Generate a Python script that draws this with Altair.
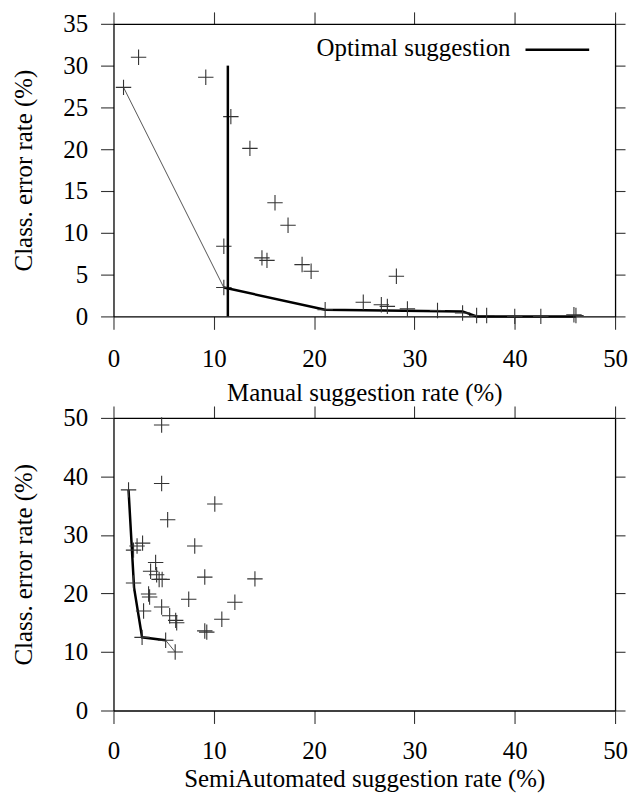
import altair as alt
import pandas as pd

# ---------------- data ----------------
# top panel: manual suggestion
manual_x = [1.0, 2.5, 9.2, 11.7, 13.6, 16.1, 17.4, 11.0, 14.8, 15.3, 18.8, 19.7, 11.0, 21.1,
            28.2, 24.9, 26.7, 27.3, 29.3, 32.3, 34.8, 36.2, 37.2, 40.0, 42.6, 45.9, 46.1]
manual_y = [27.4, 31.0, 28.6, 23.9, 20.1, 13.6, 10.9, 8.4, 7.0, 6.7, 6.2, 5.4, 3.45, 0.8,
            4.8, 1.7, 1.4, 1.2, 0.9, 0.7, 0.4, 0.1, 0.1, 0.0, 0.0, 0.2, 0.1]
manual_opt_x = [11.0, 21.1, 34.8, 36.2, 46.1]
manual_opt_y = [3.45, 0.8, 0.6, 0.0, 0.0]
manual_thin_x = [1.0, 11.0]
manual_thin_y = [27.4, 3.45]
manual_vline_x = [11.4]
manual_vline_y = [0.0]
manual_vline_y2 = [30.0]

# bottom panel: semi-automated suggestion
semi_x = [4.8, 4.8, 1.5, 10.1, 5.4, 2.9, 2.35, 2.0, 8.1, 4.2, 3.7, 4.3, 4.55, 4.85, 9.1, 14.1,
          2.0, 3.5, 3.6, 7.5, 12.1, 3.0, 4.8, 5.6, 6.2, 6.3, 10.8, 9.1, 9.3, 2.85, 5.2, 6.15]
semi_y = [48.8, 38.8, 37.7, 35.3, 32.6, 28.6, 28.1, 27.4, 28.1, 25.3, 23.8, 23.2, 22.4, 22.4, 22.8, 22.5,
          21.8, 19.9, 19.4, 19.0, 18.5, 17.0, 17.7, 16.2, 15.4, 15.0, 15.6, 13.6, 13.4, 12.5, 12.0, 10.0]
semi_opt_x = [1.5, 2.05, 2.85, 5.2]
semi_opt_y = [37.7, 21.0, 12.5, 12.0]
semi_thin_x = [5.2, 6.15]
semi_thin_y = [12.0, 10.0]

x_ticks = [0, 10, 20, 30, 40, 50]
top_y_ticks = [0, 5, 10, 15, 20, 25, 30, 35]
bottom_y_ticks = [0, 10, 20, 30, 40, 50]
legend_label = ["Optimal suggestion"]

x_title_top = "Manual suggestion rate (%)"
x_title_bottom = "SemiAutomated suggestion rate (%)"
y_title = "Class. error rate (%)"

# ---------------- styling ----------------
FONT = "Liberation Serif"
FS = 25
PLUS = "M-1,0L1,0M0,-1L0,1"
W, H = 504, 294


def x_axis(title, orient="bottom", label_pad=18, title_pad=9):
    if orient == "bottom":
        return alt.Axis(title=title, values=x_ticks, orient="bottom", grid=False,
                        tickSize=13, labelPadding=label_pad, titlePadding=title_pad,
                        labelFlush=False)
    return alt.Axis(title=None, values=x_ticks, orient="top", grid=False,
                    tickSize=12, labels=False)


def y_axis(ticks, orient="left"):
    if orient == "left":
        return alt.Axis(title=y_title, values=ticks, orient="left", grid=False,
                        tickSize=13, labelPadding=13, titlePadding=26, labelFlush=False)
    return alt.Axis(title=None, values=ticks, orient="right", grid=False,
                    tickSize=10, labels=False)


def panel(px, py, ox, oy, tx, ty, ymax, yticks, xtitle, label_pad, title_pad,
          vline=None, legend=False):
    xs = alt.Scale(domain=[0, 50], nice=False, zero=False)
    ys = alt.Scale(domain=[0, ymax], nice=False, zero=False)
    pts = pd.DataFrame({"x": px, "y": py})
    opt = pd.DataFrame({"x": ox, "y": oy})
    thin = pd.DataFrame({"x": tx, "y": ty})

    points = alt.Chart(pts).mark_point(shape=PLUS, size=240, filled=False,
                                       strokeWidth=1.1, color="#333", opacity=1).encode(
        x=alt.X("x:Q", scale=xs, axis=x_axis(xtitle, "bottom", label_pad, title_pad)),
        y=alt.Y("y:Q", scale=ys, axis=y_axis(yticks)),
    )
    thin_line = alt.Chart(thin).mark_line(color="#555", strokeWidth=1).encode(
        x=alt.X("x:Q", scale=xs, axis=x_axis(None, "top")),
        y=alt.Y("y:Q", scale=ys, axis=y_axis(yticks, "right")),
    )
    opt_line = alt.Chart(opt).mark_line(color="black", strokeWidth=2.5).encode(
        x=alt.X("x:Q", scale=xs, axis=None),
        y=alt.Y("y:Q", scale=ys, axis=None),
    )
    layers = [thin_line, opt_line, points]
    if vline is not None:
        vdf = pd.DataFrame({"x": vline[0], "y": vline[1], "y2": vline[2]})
        layers.append(alt.Chart(vdf).mark_rule(color="black", strokeWidth=2.5).encode(
            x=alt.X("x:Q", scale=xs, axis=None),
            y=alt.Y("y:Q", scale=ys, axis=None),
            y2="y2:Q",
        ))
    if legend:
        ldf = pd.DataFrame({"t": legend_label})
        layers.append(alt.Chart(ldf).mark_text(align="right", baseline="alphabetic",
                                               font=FONT, fontSize=FS, color="black").encode(
            text="t:N", x=alt.value(399), y=alt.value(32)))
        layers.append(alt.Chart(ldf).mark_rule(color="black", strokeWidth=2.5).encode(
            x=alt.value(414), x2=alt.value(478), y=alt.value(26)))
    return alt.layer(*layers).resolve_axis(x="independent", y="independent").properties(
        width=W, height=H)


top = panel(manual_x, manual_y, manual_opt_x, manual_opt_y, manual_thin_x, manual_thin_y,
            35, top_y_ticks, x_title_top, 17, 9,
            vline=(manual_vline_x, manual_vline_y, manual_vline_y2), legend=True)
bottom = panel(semi_x, semi_y, semi_opt_x, semi_opt_y, semi_thin_x, semi_thin_y,
               50, bottom_y_ticks, x_title_bottom, 15, 3)

chart = alt.vconcat(top, bottom, spacing=0).properties(
    padding={"left": 4, "top": 1, "right": 0, "bottom": 0}
).configure_view(stroke=None).configure_axis(
    labelFont=FONT, titleFont=FONT, labelFontSize=FS, titleFontSize=FS,
    titleFontWeight="normal", labelColor="black", titleColor="black",
    tickColor="#333", domainColor="black", domainWidth=1.3, tickWidth=1.1,
).configure_axisY(labelBaseline="middle")

chart.save("out.html", embed_options={"renderer": "svg", "actions": False})
